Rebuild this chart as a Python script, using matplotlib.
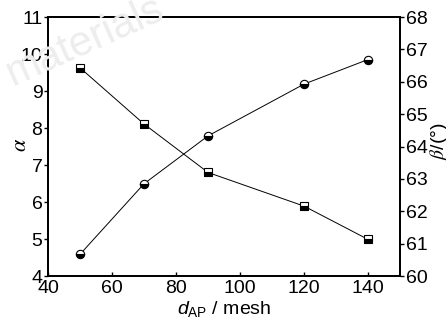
import matplotlib
matplotlib.use('Agg')
import matplotlib.pyplot as plt

plt.rcParams['font.family'] = ['Liberation Sans', 'DejaVu Sans']
plt.rcParams['mathtext.fontset'] = 'custom'
plt.rcParams['mathtext.rm'] = 'Liberation Sans'
plt.rcParams['mathtext.it'] = 'Liberation Sans:italic'

# Messwerte
mesh = [50, 70, 90, 120, 140]
alpha = [9.63, 8.11, 6.80, 5.89, 4.99]
beta = [60.67, 62.85, 64.33, 65.93, 66.69]

xticks = [40, 60, 80, 100, 120, 140]
yticks_l = [4, 5, 6, 7, 8, 9, 10, 11]
yticks_r = [60, 61, 62, 63, 64, 65, 66, 67, 68]

fig = plt.figure(figsize=(4.46, 3.29), dpi=100)

# Wasserzeichen
fig.text(0.0, 0.74, 'materials', rotation=24, fontsize=30, color='#ededed', zorder=0)

ax = fig.add_axes([0.1076, 0.161, 0.7894, 0.787])
ax.patch.set_alpha(0)
ax2 = ax.twinx()

ax.plot(mesh, alpha, color='black', lw=0.7, marker='s', ms=5.5,
        fillstyle='bottom', mfc='black', mfcalt='white', mec='black', mew=0.8)
ax2.plot(mesh, beta, color='black', lw=0.7, marker='o', ms=6,
         fillstyle='bottom', mfc='black', mfcalt='white', mec='black', mew=0.8)

ax.set_xlim(40, 150)
ax.set_ylim(4, 11)
ax2.set_ylim(60, 68)
ax.set_xticks(xticks)
ax.set_yticks(yticks_l)
ax2.set_yticks(yticks_r)

for a in (ax, ax2):
    for s in a.spines.values():
        s.set_linewidth(1.3)
ax.tick_params(axis='x', direction='in', length=3, width=1, labelsize=14, pad=3)
ax.tick_params(axis='y', direction='out', length=3, width=1, labelsize=14, pad=1)
ax2.tick_params(axis='y', direction='out', length=3, width=1, labelsize=14, pad=1)

ax.set_xlabel('$d_{\\mathrm{AP}}$ / mesh', fontsize=14, labelpad=1)
fig.text(0.045, 0.56, '$\\alpha$', rotation=90, fontsize=16,
         math_fontfamily='stix', ha='center', va='center')
fig.text(0.985, 0.57, '$\\beta$/(°)', rotation=90, fontsize=14,
         math_fontfamily='stix', ha='center', va='center')

fig.savefig('out.png', dpi=100)
